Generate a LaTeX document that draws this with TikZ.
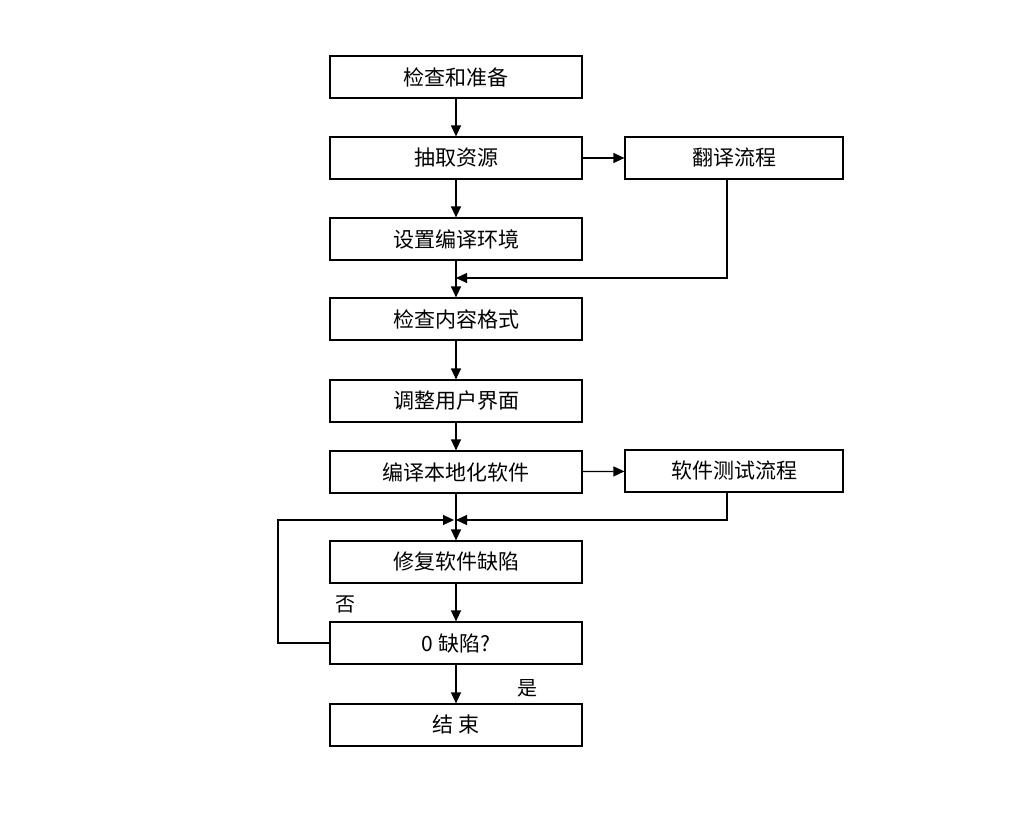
\documentclass[tikz,border=0pt]{standalone}
\usepackage{fontspec}
\setmainfont{Noto Sans CJK SC}
\usetikzlibrary{arrows.meta}
\begin{document}
\begin{tikzpicture}[x=1pt,y=-1pt,
  bx/.style={draw,line width=1.2pt,minimum width=252pt,minimum height=42pt,inner sep=0pt,font=\fontsize{21}{24}\selectfont},
  rb/.style={bx,minimum width=218pt},
  ar/.style={line width=1.2pt,-{Triangle[length=11pt,width=10pt]}},
  ln/.style={line width=1.2pt}]
\useasboundingbox (0,0) rectangle (1024,818);
\node[bx] (a) at (456,77) {检查和准备};
\node[bx] (b) at (456,158) {抽取资源};
\node[bx] (c) at (456,239) {设置编译环境};
\node[bx] (d) at (456,319) {检查内容格式};
\node[bx] (e) at (456,401) {调整用户界面};
\node[bx] (f) at (456,472) {编译本地化软件};
\node[bx] (g) at (456,562) {修复软件缺陷};
\node[bx] (h) at (456,643) {0 缺陷?};
\node[bx] (i) at (456,725) {结 束};
\node[rb] (t) at (734,158) {翻译流程};
\node[rb] (s) at (734,471) {软件测试流程};
\coordinate (m1) at (456,278);
\coordinate (m2) at (456,520);
\draw[ar] (a) -- (b);
\draw[ar] (b) -- (c);
\draw[ar] (c) -- (d);
\draw[ar] (d) -- (e);
\draw[ar] (e) -- (f);
\draw[ar] (f) -- (g);
\draw[ar] (g) -- (h);
\draw[ar] (h) -- (i);
\draw[ar] (b) -- (t);
\draw[ar] (f) -- (s);
\draw[ar] (t.south -| 727,0) |- (m1);
\draw[ar] (s.south -| 727,0) |- (m2);
\draw[ar] (h.west) -- (278,643) |- ([xshift=-2pt]m2);
\node[font=\fontsize{20}{24}\selectfont] at (345,604) {否};
\node[font=\fontsize{20}{24}\selectfont] at (527,688) {是};
\end{tikzpicture}
\end{document}
